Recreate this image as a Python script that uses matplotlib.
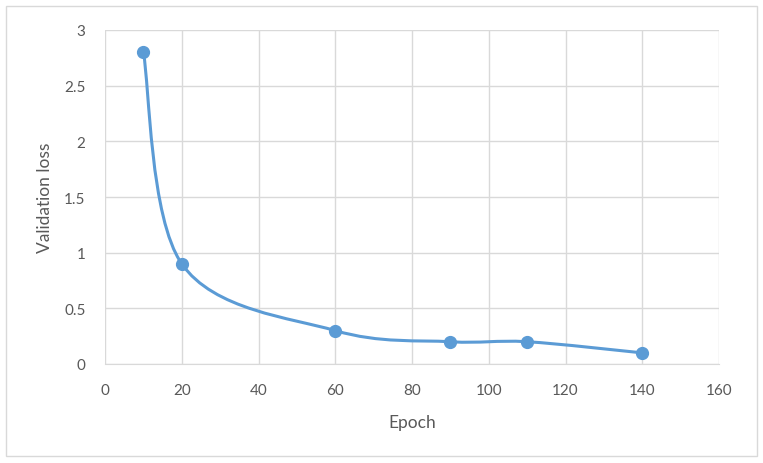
import matplotlib
matplotlib.use("Agg")
import matplotlib.pyplot as plt
from matplotlib.path import Path
from matplotlib.patches import PathPatch, Rectangle
import numpy as np

# Datos
epochs = [10, 20, 60, 90, 110, 140]
val_loss = [2.8, 0.9, 0.3, 0.2, 0.2, 0.1]
x_ticks = [0, 20, 40, 60, 80, 100, 120, 140, 160]
y_ticks = [0, 0.5, 1, 1.5, 2, 2.5, 3]
y_tick_labels = ["0", "0.5", "1", "1.5", "2", "2.5", "3"]

color = "#5B9BD5"
grid = "#D9D9D9"
text = "#595959"
plt.rcParams["font.family"] = ["Lato", "DejaVu Sans"]

fig = plt.figure(figsize=(7.63, 4.64), dpi=100)
ax = fig.add_axes([105 / 763, 1 - 365 / 464, (719 - 105) / 763, (365 - 31) / 464])
fig.patches.append(Rectangle((6 / 763, 1 - 457 / 464), 751 / 763, 450 / 464,
                             transform=fig.transFigure, fill=False,
                             edgecolor=grid, linewidth=1))

ax.set_xlim(0, 160)
ax.set_ylim(0, 3)
ax.set_xticks(x_ticks)
ax.set_yticks(y_ticks)
ax.set_yticklabels(y_tick_labels)
ax.grid(True, color=grid, linewidth=1)
ax.set_axisbelow(True)
for s in ["top", "right", "left"]:
    ax.spines[s].set_visible(False)
ax.spines["bottom"].set_color(grid)
ax.tick_params(length=0, colors=text, labelsize=11, pad=14)
ax.tick_params(axis="y", pad=14)
ax.set_xlabel("Epoch", color=text, fontsize=12.5, labelpad=12)
ax.set_ylabel("Validation loss", color=text, fontsize=12.5, labelpad=8)

# Linea suavizada (tipo Excel) calculada en pixeles
pts = ax.transData.transform(np.column_stack([epochs, val_loss]))
n = len(pts)
verts = [pts[0]]
codes = [Path.MOVETO]
for i in range(n - 1):
    p0 = pts[i - 1] if i > 0 else pts[i]
    p1 = pts[i]
    p2 = pts[i + 1]
    p3 = pts[i + 2] if i + 2 < n else pts[i + 1]
    c1 = p1 + (p2 - p0) / 6
    c2 = p2 - (p3 - p1) / 6
    verts += [c1, c2, p2]
    codes += [Path.CURVE4] * 3
verts = ax.transData.inverted().transform(np.array(verts))
ax.add_patch(PathPatch(Path(verts, codes), fill=False, edgecolor=color,
                       linewidth=2.2, capstyle="round", joinstyle="round"))
ax.plot(epochs, val_loss, "o", color=color, markersize=8.5, clip_on=False)

fig.savefig("out.png", dpi=100)
